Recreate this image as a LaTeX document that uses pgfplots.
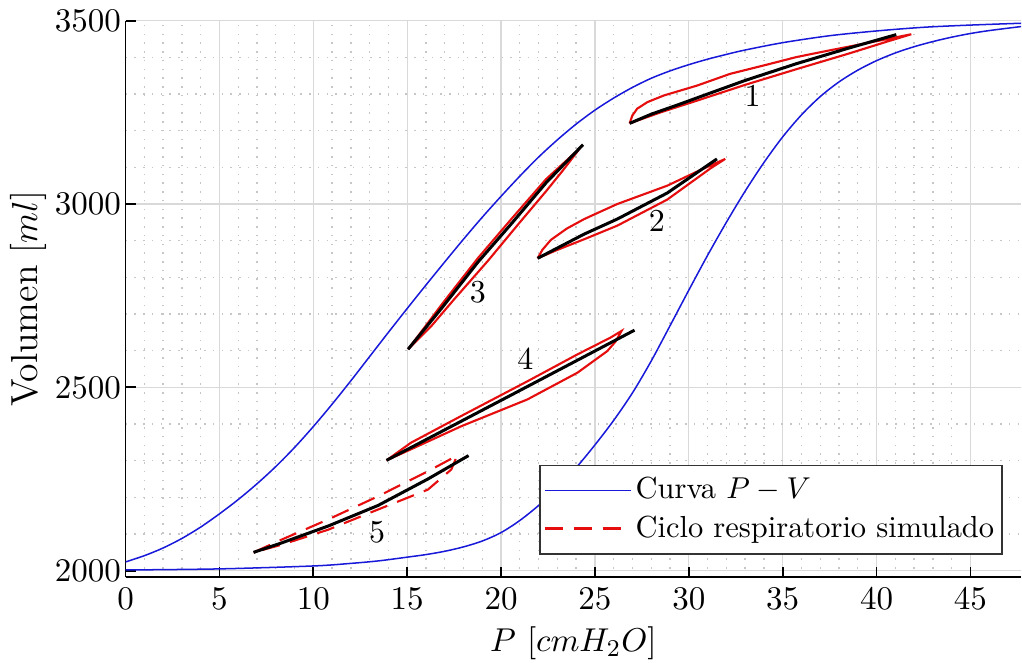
\documentclass[border=0pt]{standalone}
\usepackage{pgfplots}
\pgfplotsset{compat=1.18}
\definecolor{curva}{rgb}{0.1,0.1,0.85}
\definecolor{ciclo}{rgb}{0.9,0.05,0.05}
\begin{document}
\begin{tikzpicture}
\begin{axis}[
  scale only axis,
  width=297pt, height=184.6pt,
  xmin=0, xmax=47.7, ymin=1982, ymax=3500,
  xtick={0,5,...,45}, ytick={2000,2500,3000,3500},
  minor x tick num=4, minor y tick num=4,
  /pgf/number format/1000 sep={},
  ticklabel style={font=\fontsize{10.6}{12.5}\selectfont},
  yticklabel style={xshift=2pt},
  xlabel style={font=\fontsize{11.4}{14}\selectfont, inner sep=1pt, yshift=-1.3pt},
  ylabel style={font=\fontsize{12.5}{15}\selectfont, yshift=-4pt},
  grid=both,
  major grid style={gray!30, line width=0.4pt},
  minor grid style={gray!45, dash pattern=on 0.5pt off 2.4pt, line width=0.45pt},
  axis x line*=bottom, axis y line*=left,
  axis line style={-, line width=0.6pt},
  tick align=inside, major tick length=3.5pt, minor tick length=0pt,
  tick style={black, line width=0.6pt},
  xlabel={$P\ [cmH_2O]$}, ylabel={Volumen $[ml]$},
  legend style={at={(rel axis cs:0.98,0.041)}, anchor=south east,
    draw=black!80, line width=0.6pt, fill=white, cells={anchor=west},
    inner xsep=1.5pt, nodes={inner xsep=1.2pt},
    font=\fontsize{10.1}{12.5}\selectfont},
  legend image code/.code={\draw[#1] (0cm,0cm) -- (1cm,0cm);},
]
% curva P-V, rama superior e inferior
\addplot[curva, line width=0.5pt, smooth] coordinates {
  (0,2024) (1,2041) (2,2062) (3,2088) (4,2119) (5,2155) (6,2194) (7,2237)
  (8,2284) (9,2336) (10,2393) (11,2454) (12,2518) (13,2584) (14,2650)
  (15,2715) (16,2779) (17,2842) (18,2904) (19,2964) (20,3021) (21,3076)
  (22,3128) (23,3175) (24,3218) (25,3256) (26,3289) (27,3318) (28,3343)
  (29,3363) (30,3380) (31,3395) (32,3408) (33,3420) (35,3440) (37.5,3459)
  (40,3472) (42.5,3482) (45,3488) (47.7,3493)};
\addlegendentry{Curva $P-V$}
\addplot[curva, line width=0.5pt, smooth, forget plot] coordinates {
  (0,2002) (5,2005) (10,2013) (12,2020) (13.5,2027) (15,2037) (16,2044)
  (17,2053) (18,2065) (19,2081) (20,2104) (21,2137) (22,2178) (23,2226)
  (24,2281) (25,2343) (26,2410) (27,2485) (28,2572) (29,2668) (30,2765)
  (31,2860) (32,2950) (33,3035) (34,3113) (35,3183) (36,3243) (37,3293)
  (38,3333) (39,3365) (40,3391) (41,3412) (42,3429) (43,3443) (44,3455)
  (45,3465) (46,3473) (47.7,3484)};
% ciclo 5 (discontinuo)
\addplot[ciclo, line width=0.7pt, dash pattern=on 6pt off 3.5pt] coordinates {
  (6.82,2050) (8.32,2085) (10.8,2140) (13.45,2203) (16.1,2271) (17.66,2314)
  (17.35,2276) (16.1,2221) (13.45,2167) (10.8,2112) (8.32,2071) (6.82,2050)};
\addlegendentry{Ciclo respiratorio simulado}
% ciclos 1-4
\addplot[ciclo, line width=0.7pt, forget plot] coordinates {
  (26.85,3220) (26.99,3241) (27.25,3260) (27.8,3278) (28.67,3296) (30.44,3323)
  (32.2,3355) (34,3378) (35.75,3401) (37.5,3419) (39.3,3437) (41.85,3463)
  (40.5,3442) (38.5,3410) (35.75,3368) (33,3325) (30.44,3282) (28.5,3250)
  (26.85,3220)};
\addplot[ciclo, line width=0.7pt, forget plot] coordinates {
  (21.95,2852) (22.2,2875) (22.65,2902) (23.5,2933) (24.43,2959) (26.19,3000)
  (28.85,3050) (30.5,3090) (31.94,3123)
  (31.15,3097) (28.85,3012) (26.19,2941) (24.43,2904) (23,2875) (21.95,2852)};
\addplot[ciclo, line width=0.7pt, forget plot] coordinates {
  (15.05,2604) (16.9,2730) (18.76,2852) (20.53,2958) (22.4,3068) (24.2,3152)
  (23.3,3092) (22.4,3035) (21,2950) (19.3,2845) (17.5,2740) (16.3,2668)
  (15.05,2604)};
\addplot[ciclo, line width=0.7pt, forget plot] coordinates {
  (13.9,2301) (15.2,2349) (17.88,2422) (21.42,2517) (24.07,2590) (25.84,2636)
  (26.42,2654) (26.1,2625) (25.66,2599) (24.07,2540) (21.4,2467) (17.88,2394)
  (15.2,2331) (13.9,2301)};
% trayectorias medias
\addplot[black, line width=1pt, forget plot] coordinates {
  (26.85,3220) (28,3245) (29.5,3272) (31,3300) (33,3337) (35.75,3383)
  (38.5,3425) (41.05,3462)};
\addplot[black, line width=1pt, forget plot] coordinates {
  (21.95,2852) (23,2880) (24.43,2918) (26.19,2959) (28.85,3030) (31.5,3123)};
\addplot[black, line width=1pt, forget plot] coordinates {
  (15.05,2604) (16.9,2720) (18.76,2841) (20.53,2945) (22.4,3058) (24.37,3162)};
\addplot[black, line width=1pt, forget plot] coordinates {
  (13.9,2301) (20.5,2478) (27.11,2656)};
\addplot[black, line width=1pt, forget plot] coordinates {
  (6.82,2050) (8.32,2076) (10.8,2122) (13.45,2178) (16.1,2250) (18.27,2314)};
\begin{scope}[font=\fontsize{10.6}{13}\selectfont]
\node at (axis cs:33.4,3295) {1};
\node at (axis cs:28.3,2954) {2};
\node at (axis cs:18.76,2760) {3};
\node at (axis cs:21.3,2577) {4};
\node at (axis cs:13.4,2104) {5};
\end{scope}
\end{axis}
\end{tikzpicture}
\end{document}
